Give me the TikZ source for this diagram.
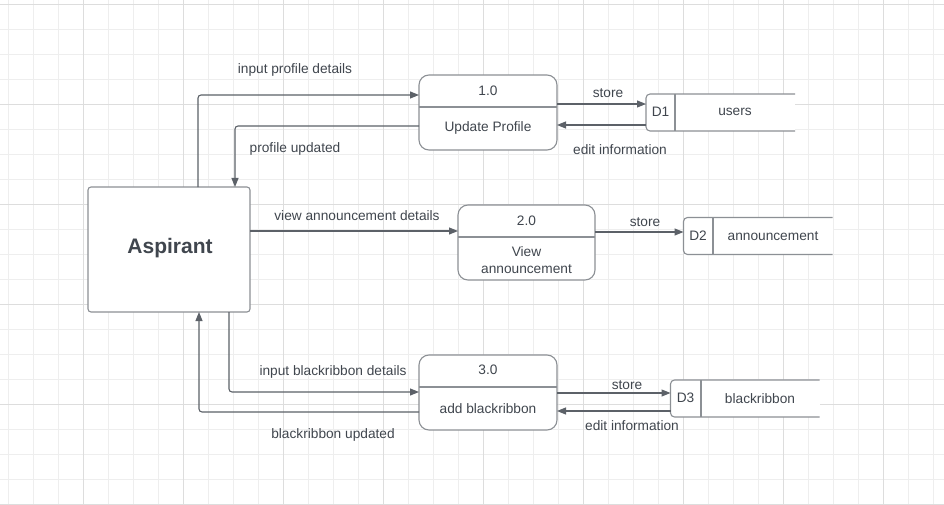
\documentclass[tikz,border=0pt]{standalone}
\usepackage{fontspec}
\setmainfont{Liberation Sans}
\usetikzlibrary{arrows.meta,calc}
\definecolor{gridminor}{HTML}{EEEEEE}
\definecolor{gridmajor}{HTML}{DDDDDD}
\definecolor{txt}{HTML}{40464E}
\definecolor{linec}{HTML}{5C6168}
\definecolor{boxc}{HTML}{8C9095}
\begin{document}
\begin{tikzpicture}[x=1pt,y=-1pt,
  every node/.style={text=txt,inner sep=0pt,outer sep=0pt,font=\fontsize{13.7}{16}\selectfont},
  flow/.style={draw=linec,line width=1.1pt,rounded corners=3pt,-{Triangle[length=9pt,width=7pt]}},
  procbox/.style={draw=boxc,line width=1.1pt,rounded corners=10pt,minimum width=138pt,minimum height=75pt},
  entbox/.style={draw=boxc,line width=1.1pt,rounded corners=3pt,minimum width=162pt,minimum height=125pt,font=\fontsize{21}{24}\selectfont\bfseries},
  storebox/.style={minimum width=149pt,minimum height=37pt},
  storeline/.style={draw=boxc,line width=1.1pt,rounded corners=4pt},
  divline/.style={draw=boxc,line width=1.1pt},
  lbl/.style={yshift=-1.2pt}]
\useasboundingbox (0,0) rectangle (944,505);
\fill[white] (0,0) rectangle (944,505);
% grid
\foreach \x in {8,33,...,933} \draw[gridminor,line width=0.8pt] (\x,0)--(\x,505);
\foreach \y in {4,29,...,504} \draw[gridminor,line width=0.8pt] (0,\y)--(944,\y);
\foreach \x in {83,183,...,883} \draw[gridmajor,line width=0.9pt] (\x,0)--(\x,505);
\foreach \y in {4,104,...,504} \draw[gridmajor,line width=0.9pt] (0,\y)--(944,\y);

% entity
\node[entbox,fill=white] (asp) at (169,249.5) {};
\node[lbl,font=\fontsize{21}{24}\selectfont\bfseries] (aspt) at (170,246.5) {Aspirant};

% processes
\node[procbox,fill=white] (p1) at (488,112.5) {};
\draw[divline] (419,107) -- (557,107);
\node[lbl] (p1n) at (488,90) {1.0};
\node[lbl] (p1t) at (488,127) {Update Profile};

\node[procbox,minimum width=137pt,fill=white] (p2) at (526.5,242.5) {};
\draw[divline] (458,237) -- (595,237);
\node[lbl] (p2n) at (526.5,220) {2.0};
\node[lbl,align=center,font=\fontsize{13.7}{17}\selectfont] (p2t) at (526.5,258.5) {View\\announcement};

\node[procbox,fill=white] (p3) at (488,392.5) {};
\draw[divline] (419,387) -- (557,387);
\node[lbl] (p3n) at (488,369) {3.0};
\node[lbl] (p3t) at (488,407) {add blackribbon};

% data stores
\node[storebox] (d1) at (720.5,112.5) {};
\fill[white] (646,94) rectangle (795,131);
\draw[storeline] (d1.north east) -| (d1.south west) -- (d1.south east);
\draw[divline] (675,94) -- (675,131);
\node[lbl] (d1n) at (660.5,111) {D1};
\node[lbl] (d1t) at (735,111) {users};

\node[storebox] (d2) at (758,236) {};
\fill[white] (683.5,217.5) rectangle (832.5,254.5);
\draw[storeline] (d2.north east) -| (d2.south west) -- (d2.south east);
\draw[divline] (713,217.5) -- (713,254.5);
\node[lbl] (d2n) at (698,235) {D2};
\node[lbl] (d2t) at (773,235) {announcement};

\node[storebox] (d3) at (745,398.5) {};
\fill[white] (670.5,380) rectangle (819.5,417);
\draw[storeline] (d3.north east) -| (d3.south west) -- (d3.south east);
\draw[divline] (701,380) -- (701,417);
\node[lbl] (d3n) at (685.5,397) {D3};
\node[lbl] (d3t) at (760,397) {blackribbon};

% flows
\draw[flow] (asp.north -| 198,0) |- (p1.west |- 0,95);
\draw[flow] (p1.west |- 0,126) -| (asp.north -| 235,0);
\draw[flow] (asp.east |- 0,231) -- (p2.west |- 0,231);
\draw[flow] (asp.south -| 229,0) |- (p3.west |- 0,392);
\draw[flow] (p3.west |- 0,412) -| (asp.south -| 199,0);

\draw[flow] (p1.east |- 0,104) -- (d1.west |- 0,104);
\draw[flow] (d1.west |- 0,125) -- (p1.east |- 0,125);
\draw[flow] (p2.east |- 0,232) -- (d2.west |- 0,232);
\draw[flow] (p3.east |- 0,393) -- (d3.west |- 0,393);
\draw[flow] (d3.west |- 0,411) -- (p3.east |- 0,411);

% labels
\node[lbl] (l1) at (295,69) {input profile details};
\node[lbl] (l2) at (295,148) {profile updated};
\node[lbl] (l3) at (357,214) {view announcement details};
\node[lbl] (l4) at (333,371) {input blackribbon details};
\node[lbl] (l5) at (333,434) {blackribbon updated};
\node[lbl] (l6) at (608,92) {store};
\node[lbl] (l7) at (620,148) {edit information};
\node[lbl] (l8) at (645,221) {store};
\node[lbl] (l9) at (627,384) {store};
\node[lbl] (l10) at (632,424) {edit information};
\end{tikzpicture}
\end{document}
